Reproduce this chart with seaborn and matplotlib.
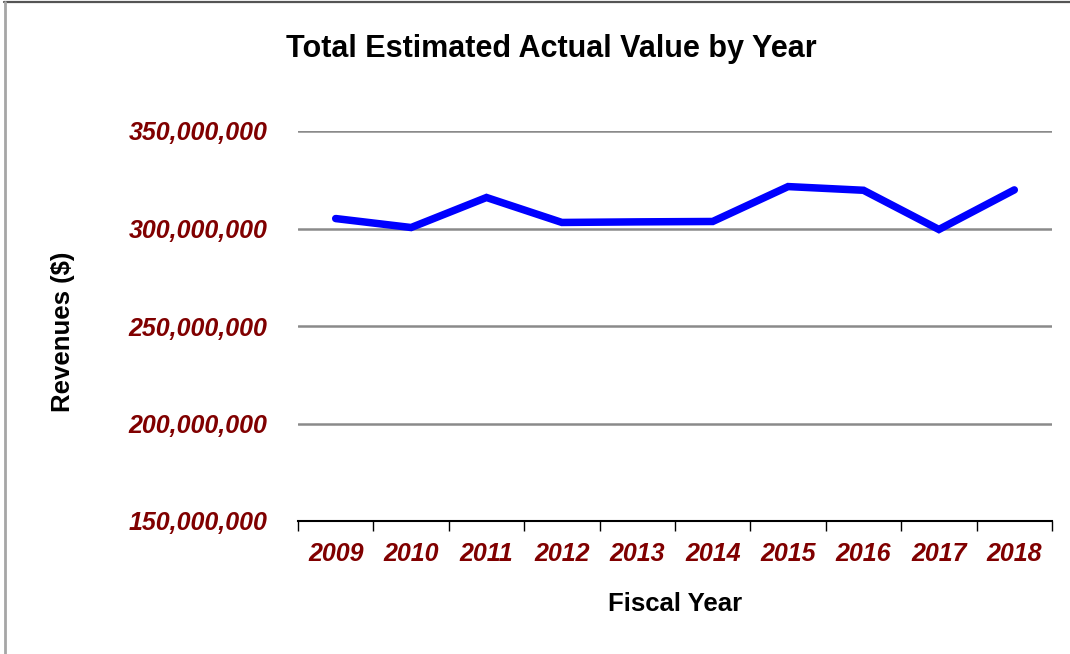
import matplotlib
matplotlib.use("Agg")
import matplotlib.pyplot as plt
import matplotlib.ticker as mticker
from matplotlib.lines import Line2D
import seaborn as sns
import pandas as pd
import numpy as np

# Fiscal years and total estimated actual value (dollars)
years = ["2009", "2010", "2011", "2012", "2013", "2014", "2015", "2016", "2017", "2018"]
values = [305_100_000, 300_500_000, 315_900_000, 303_100_000, 303_400_000,
          303_600_000, 321_500_000, 319_600_000, 299_500_000, 319_800_000]
y_ticks = [150_000_000, 200_000_000, 250_000_000, 300_000_000, 350_000_000]

df = pd.DataFrame({"Fiscal Year": years, "Value": values})

sns.set_theme(style="white")
plt.rcParams["font.family"] = ["Liberation Sans", "DejaVu Sans"]

fig = plt.figure(figsize=(10.7, 6.54), dpi=100)
ax = fig.add_axes([298 / 1070, 1 - 521 / 654, (1052 - 298) / 1070, (521 - 131) / 654])

sns.lineplot(data=df, x="Fiscal Year", y="Value", ax=ax, color="#0000FF",
             linewidth=5.4, solid_capstyle="round", solid_joinstyle="miter", zorder=3)

ax.set_xlim(-0.5, len(years) - 0.5)
ax.set_ylim(y_ticks[0], y_ticks[-1])

# horizontal gridlines
ax.set_yticks(y_ticks)
ax.yaxis.grid(True, color="#8a8a8a", linewidth=1.8)
ax.xaxis.grid(False)
ax.set_axisbelow(True)
ax.yaxis.set_major_formatter(mticker.FuncFormatter(lambda v, p: f"{int(v):,}"))

# category labels at centers, tick marks at category boundaries
ax.set_xticks(range(len(years)))
ax.set_xticklabels(years)
ax.set_xticks(np.arange(-0.5, len(years)), minor=True)
ax.tick_params(axis="x", which="major", length=0, pad=15)
ax.tick_params(axis="x", which="minor", length=7, width=1.0, color="black", direction="out", bottom=True)
ax.tick_params(axis="y", which="major", length=0, pad=22)

for lab in ax.get_xticklabels() + ax.get_yticklabels():
    lab.set_fontsize(18)
    lab.set_fontweight("bold")
    lab.set_fontstyle("italic")
    lab.set_color("#800000")

for side in ["left", "right", "top"]:
    ax.spines[side].set_visible(False)
ax.spines["bottom"].set_color("black")
ax.spines["bottom"].set_linewidth(1.5)
ax.spines["bottom"].set_zorder(4)

ax.set_xlabel("Fiscal Year", fontsize=18.5, fontweight="bold", color="black", labelpad=19)
ax.set_ylabel("Revenues ($)", fontsize=18.5, fontweight="bold", color="black")
ax.yaxis.set_label_coords(-(298 - 75) / (1052 - 298), 0.5 + (521 - 332) / 390 - 0.5)

fig.text(551 / 1070, 1 - 49 / 654, "Total Estimated Actual Value by Year",
         ha="center", va="center", fontsize=22, fontweight="bold", color="black")

# outer frame: top and left edges
fig.add_artist(Line2D([4 / 1070, 1.0], [1 - 2 / 654, 1 - 2 / 654], transform=fig.transFigure,
                      color="#555555", linewidth=1.6))
fig.add_artist(Line2D([4.5 / 1070, 4.5 / 1070], [0, 1 - 2 / 654], transform=fig.transFigure,
                      color="#a6a6a6", linewidth=2.0))

fig.savefig("out.png", dpi=100, facecolor="white")
